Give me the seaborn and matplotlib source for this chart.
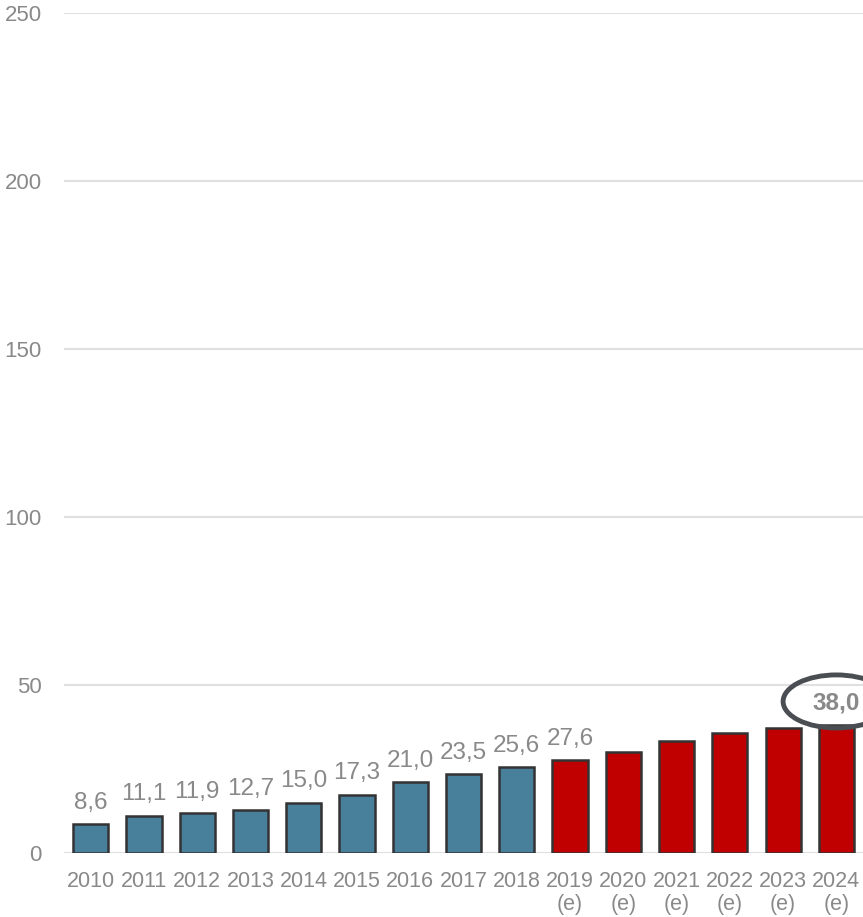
import matplotlib
matplotlib.use("Agg")
import matplotlib.pyplot as plt
from matplotlib.patches import Ellipse
import seaborn as sns
import pandas as pd

years = ["2010", "2011", "2012", "2013", "2014", "2015", "2016", "2017", "2018",
         "2019\n(e)", "2020\n(e)", "2021\n(e)", "2022\n(e)", "2023\n(e)", "2024\n(e)"]
values = [8.6, 11.1, 11.9, 12.7, 15.0, 17.3, 21.0, 23.5, 25.6,
          27.6, 30.1, 33.2, 35.6, 37.2, 38.0]
kind = ["actual"] * 9 + ["estimate"] * 6
value_labels = ["8,6", "11,1", "11,9", "12,7", "15,0", "17,3", "21,0", "23,5", "25,6",
                "27,6", "", "", "", "", "38,0"]
y_ticks = [0, 50, 100, 150, 200, 250]

df = pd.DataFrame({"year": years, "value": values, "kind": kind})

sns.set_theme(style="white")
plt.rcParams["font.family"] = ["Liberation Sans", "DejaVu Sans"]

GRAY = "#898989"
fig = plt.figure(figsize=(8.63, 9.17), dpi=100)
ax = fig.add_axes([0.0742, 0.0698, 0.9258, 0.916])

sns.barplot(data=df, x="year", y="value", hue="kind",
            palette={"actual": "#487F9A", "estimate": "#C00000"},
            saturation=1, dodge=False, width=0.66, edgecolor="#333333", linewidth=1.8,
            legend=False, ax=ax, zorder=3)

ax.set_ylim(0, 250)
ax.set_xlim(-0.5, 14.5)
ax.set_yticks(y_ticks)
ax.yaxis.grid(True, color="#e0e0e0", linewidth=1.5, zorder=0)
ax.xaxis.grid(False)
for s in ax.spines.values():
    s.set_visible(False)
ax.set_xlabel("")
ax.set_ylabel("")
ax.tick_params(axis="y", labelsize=16, labelcolor=GRAY, pad=16, length=0)
ax.tick_params(axis="x", labelsize=15.5, labelcolor=GRAY, pad=13, length=0)
for t in ax.get_xticklabels():
    t.set_linespacing(1.1)

for i, (v, lab) in enumerate(zip(values, value_labels)):
    if not lab:
        continue
    bold = (i == len(values) - 1)
    ax.annotate(lab, (i, v), xytext=(0, 7.5), textcoords="offset points",
                ha="center", va="bottom", fontsize=17.5, color=GRAY,
                fontweight="bold" if bold else "normal", zorder=5)

ax.add_patch(Ellipse((14.0, 45.1), width=2.0, height=15.8, fill=False,
                     edgecolor="#4a4d52", linewidth=3.5, zorder=6, clip_on=False))

fig.savefig("out.png", dpi=100)
